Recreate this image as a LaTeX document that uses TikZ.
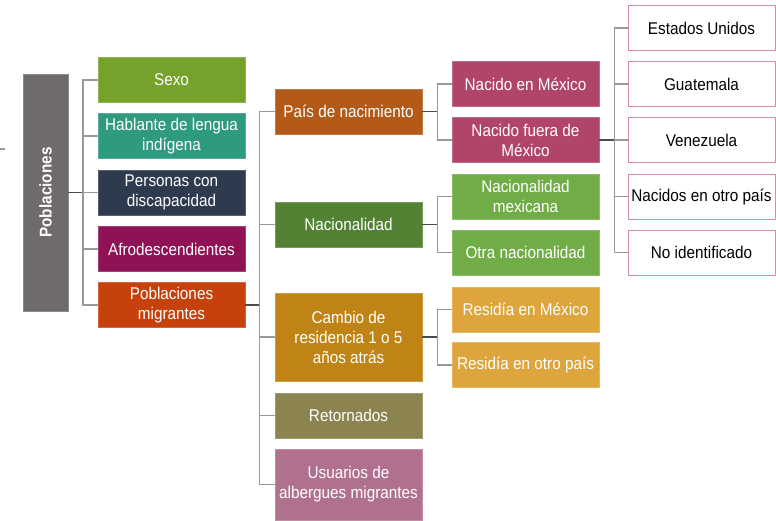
\documentclass[tikz,border=0pt]{standalone}
\usepackage{fontspec}
\setmainfont{Liberation Sans}[FakeStretch=0.9]
\usetikzlibrary{calc}
\definecolor{cpob}{HTML}{6F6B6B}
\definecolor{csexo}{HTML}{76A12B}
\definecolor{chab}{HTML}{2E9A80}
\definecolor{cpers}{HTML}{2E3B4E}
\definecolor{cafro}{HTML}{8F1254}
\definecolor{cmigr}{HTML}{C6410C}
\definecolor{cpais}{HTML}{B45A18}
\definecolor{cnac}{HTML}{548235}
\definecolor{ccamb}{HTML}{C08316}
\definecolor{cret}{HTML}{8B8350}
\definecolor{cusu}{HTML}{B0718F}
\definecolor{cnacido}{HTML}{B0446A}
\definecolor{cnacio}{HTML}{70AD47}
\definecolor{cres}{HTML}{DEA53C}
\definecolor{cpink}{HTML}{D98AA6}
\begin{document}
\begin{tikzpicture}[x=1pt,y=-1pt,
  box/.style={rectangle, draw=#1!80!white, fill=#1, line width=0.8pt, text=white,
    minimum width=147pt, minimum height=45pt, inner sep=0pt, align=center,
    font=\fontsize{17}{20}\selectfont},
  wbox/.style={rectangle, draw=cpink, fill=white, line width=1pt, text=black,
    minimum width=147pt, minimum height=45pt, inner sep=0pt, align=center,
    font=\fontsize{17}{20}\selectfont},
  dark/.style={draw=black!70, line width=1.2pt},
  light/.style={draw=black!40, line width=1.2pt}]
\useasboundingbox (0,0) rectangle (776,520);
% root
\node[box=cpob, minimum width=45pt, minimum height=237pt] (pob) at (45.5,192.5)
  {\rotatebox{90}{\bfseries Poblaciones}};
% level 1
\node[box=csexo] (sexo) at (171.5,80) {Sexo};
\node[box=chab] (hab) at (171.5,136) {Hablante de lengua\\indígena};
\node[box=cpers] (pers) at (171.5,192.5) {Personas con\\discapacidad};
\node[box=cafro] (afro) at (171.5,249) {Afrodescendientes};
\node[box=cmigr] (migr) at (171.5,305) {Poblaciones\\migrantes};
% level 2
\node[box=cpais] (pais) at (348.5,111.5) {País de nacimiento};
\node[box=cnac] (nac) at (348.5,224.5) {Nacionalidad};
\node[box=ccamb, minimum height=88pt] (camb) at (348.5,337) {Cambio de\\residencia 1 o 5\\años atrás};
\node[box=cret] (ret) at (348.5,415.5) {Retornados};
\node[box=cusu, minimum height=71pt] (usu) at (348.5,484.5) {Usuarios de\\albergues migrantes};
% level 3
\node[box=cnacido] (nmex) at (525.5,84) {Nacido en México};
\node[box=cnacido] (nfue) at (525.5,140) {Nacido fuera de\\México};
\node[box=cnacio] (nmx) at (525.5,196.5) {Nacionalidad\\mexicana};
\node[box=cnacio] (otra) at (525.5,252.5) {Otra nacionalidad};
\node[box=cres] (resmex) at (525.5,309.5) {Residía en México};
\node[box=cres] (resotro) at (525.5,365) {Residía en otro país};
% level 4
\node[wbox] (eu) at (701.5,28) {Estados Unidos};
\node[wbox] (gua) at (701.5,84) {Guatemala};
\node[wbox] (ven) at (701.5,140) {Venezuela};
\node[wbox] (otro) at (701.5,196.5) {Nacidos en otro país};
\node[wbox] (noid) at (701.5,252.5) {No identificado};
% small stray dash at left
\coordinate (d1) at (0,149);
\coordinate (d2) at (5,149);
\draw[light] (d1) -- (d2);
% connectors
\coordinate (j1) at ($(pob.east)+(14.5,0)$);
\draw[dark] (pob.east) -- (j1);
\foreach \n in {sexo,hab,pers,afro,migr} \draw[light] (j1) |- (\n.west);
\coordinate (j2) at ($(migr.east)+(14,0)$);
\draw[dark] (migr.east) -- (j2);
\foreach \n in {pais,nac,camb,ret,usu} \draw[light] (j2) |- (\n.west);
\coordinate (j3) at ($(pais.east)+(15,0)$);
\draw[dark] (pais.east) -- (j3);
\foreach \n in {nmex,nfue} \draw[light] (j3) |- (\n.west);
\coordinate (j4) at ($(nac.east)+(15,0)$);
\draw[dark] (nac.east) -- (j4);
\foreach \n in {nmx,otra} \draw[light] (j4) |- (\n.west);
\coordinate (j5) at ($(camb.east)+(15,0)$);
\draw[dark] (camb.east) -- (j5);
\foreach \n in {resmex,resotro} \draw[light] (j5) |- (\n.west);
\coordinate (j6) at ($(nfue.east)+(15,0)$);
\draw[dark] (nfue.east) -- (j6);
\foreach \n in {eu,gua,ven,otro,noid} \draw[light] (j6) |- (\n.west);
\end{tikzpicture}
\end{document}
